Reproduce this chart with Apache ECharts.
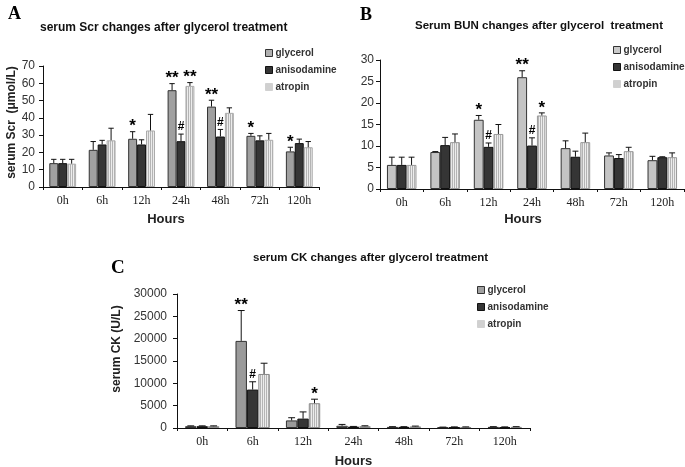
<!DOCTYPE html>
<html>
<head>
<meta charset="utf-8">
<script src="https://cdn.jsdelivr.net/npm/echarts@6/dist/echarts.min.js"></script>
<style>
  html, body { margin: 0; padding: 0; background: #fff; }
  #chart { width: 685px; height: 467px; }
</style>
</head>
<body>
<div id="chart"></div>
<script>
// 数据
var hours = ['0h', '6h', '12h', '24h', '48h', '72h', '120h'];
var groups = ['glycerol', 'anisodamine', 'atropin'];

// A: serum Scr (umol/L)
var scrTicks = [0, 70, 10];
var scrGly = [13.8, 21.5, 27.9, 56.0, 46.5, 29.6, 20.6];
var scrGlySd = [2.2, 4.8, 4.1, 3.8, 3.7, 1.4, 2.4];
var scrAni = [13.8, 24.6, 24.6, 26.5, 29.2, 27.0, 25.4];
var scrAniSd = [2.2, 2.4, 2.7, 4.1, 4.1, 2.6, 2.3];
var scrAtr = [13.5, 27.0, 32.7, 58.5, 42.9, 27.3, 23.0];
var scrAtrSd = [2.5, 7.0, 9.3, 1.9, 2.9, 3.7, 3.3];
var scrGlyMark = ['', '', '*', '**', '**', '*', '*'];
var scrAniMark = ['', '', '', '#', '#', '', ''];
var scrAtrMark = ['', '', '', '**', '', '', ''];

// B: serum BUN
var bunTicks = [0, 30, 5];
var bunGly = [5.6, 8.6, 16.1, 26.0, 9.5, 7.8, 6.7];
var bunGlySd = [1.8, 0.1, 1.0, 1.5, 1.7, 0.6, 0.9];
var bunAni = [5.6, 10.2, 9.8, 10.1, 7.5, 7.2, 7.4];
var bunAniSd = [1.8, 1.8, 0.9, 1.8, 1.3, 0.8, 0.1];
var bunAtr = [5.6, 10.9, 12.8, 17.1, 10.9, 8.8, 7.4];
var bunAtrSd = [1.8, 1.9, 2.2, 0.6, 2.1, 0.9, 1.0];
var bunGlyMark = ['', '', '*', '**', '', '', ''];
var bunAniMark = ['', '', '#', '#', '', '', ''];
var bunAtrMark = ['', '', '', '*', '', '', ''];

// C: serum CK (U/L)
var ckTicks = [0, 30000, 5000];
var ckGly = [400, 19500, 1700, 500, 250, 150, 250];
var ckGlySd = [80, 6800, 600, 300, 50, 50, 50];
var ckAni = [400, 8600, 2100, 300, 250, 200, 200];
var ckAniSd = [80, 1750, 1500, 50, 50, 50, 50];
var ckAtr = [400, 12100, 5550, 400, 350, 200, 250];
var ckAtrSd = [80, 2400, 900, 100, 80, 50, 50];
var ckGlyMark = ['', '**', '', '', '', '', ''];
var ckAniMark = ['', '#', '', '', '', '', ''];
var ckAtrMark = ['', '', '*', '', '', '', ''];

// 竖条纹填充 (atropin)
function stripes() {
    var c = document.createElement('canvas');
    c.width = 2; c.height = 2;
    var ctx = c.getContext('2d');
    ctx.fillStyle = '#ececec';
    ctx.fillRect(0, 0, 2, 2);
    ctx.fillStyle = '#b4b4b4';
    ctx.fillRect(0, 0, 1, 2);
    return { image: c, repeat: 'repeat' };
}
var atrFill = stripes();

var catGap = 0.32;
var sans = 'Liberation Sans, Arial, sans-serif';
var serif = 'Liberation Serif, Times New Roman, serif';

function barSeries(idx, name, data, color, border) {
    return {
        name: name,
        type: 'bar',
        xAxisIndex: idx,
        yAxisIndex: idx,
        data: data,
        barGap: '0%',
        barCategoryGap: (catGap * 100) + '%',
        itemStyle: { color: color, borderColor: border, borderWidth: 1 },
        emphasis: { disabled: true }
    };
}

function errSeries(idx, means, sds, marks, pos) {
    var data = means.map(function (m, i) { return [i, m, sds[i]]; });
    return {
        type: 'custom',
        xAxisIndex: idx,
        yAxisIndex: idx,
        z: 5,
        silent: true,
        data: data,
        renderItem: function (params, api) {
            var i = api.value(0), m = api.value(1), s = api.value(2);
            var band = api.size([1, 0])[0];
            var w = band * (1 - catGap) / 3;
            var p0 = api.coord([i, m]);
            var p1 = api.coord([i, m + s]);
            var x = p0[0] + (pos - 1) * w;
            var cap = w * 0.3;
            var children = [
                { type: 'line', shape: { x1: x, y1: p0[1], x2: x, y2: p1[1] }, style: { stroke: '#111', lineWidth: 1 } },
                { type: 'line', shape: { x1: x - cap, y1: p1[1], x2: x + cap, y2: p1[1] }, style: { stroke: '#111', lineWidth: 1 } }
            ];
            var mk = marks[params.dataIndex];
            if (mk) {
                var star = mk.indexOf('*') >= 0;
                children.push({
                    type: 'text',
                    style: {
                        text: mk,
                        x: x,
                        y: star ? p1[1] - 5 : p1[1] - 1,
                        align: 'center',
                        verticalAlign: star ? 'middle' : 'bottom',
                        font: 'bold ' + (star ? 17 : 12) + 'px ' + sans,
                        fill: '#000'
                    }
                });
            }
            return { type: 'group', children: children };
        }
    };
}

function xAxisFor(idx, gap, pad) {
    return {
        type: 'category',
        gridIndex: idx,
        data: hours,
        name: 'Hours',
        nameLocation: 'middle',
        nameGap: gap,
        nameTextStyle: { fontFamily: sans, fontWeight: 'bold', fontSize: 13, color: '#222', padding: pad },
        axisLine: { lineStyle: { color: '#111', width: 1 } },
        axisTick: { show: true, length: 3, lineStyle: { color: '#111' } },
        axisLabel: { fontFamily: serif, fontSize: 12, color: '#222', margin: 8 },
        splitLine: { show: false }
    };
}

function yAxisFor(idx, ticks, name, gap, pad, margin) {
    return {
        type: 'value',
        gridIndex: idx,
        min: ticks[0],
        max: ticks[1],
        interval: ticks[2],
        name: name,
        nameLocation: 'middle',
        nameGap: gap,
        nameTextStyle: { fontFamily: sans, fontWeight: 'bold', fontSize: 12, color: '#222', padding: pad },
        axisLine: { show: true, lineStyle: { color: '#111', width: 1 } },
        axisTick: { show: true, length: 4, lineStyle: { color: '#111' } },
        axisLabel: {
            fontFamily: sans, fontSize: 12, color: '#333', margin: margin,
            formatter: function (v) { return String(v); }
        },
        splitLine: { show: false }
    };
}

function legendFor(left, top, glyColor) {
    return {
        orient: 'vertical',
        left: left,
        top: top,
        itemWidth: 7,
        itemHeight: 7,
        itemGap: 7,
        icon: 'rect',
        selectedMode: false,
        textStyle: { fontFamily: sans, fontWeight: 'bold', fontSize: 10, color: '#333', padding: [0, 0, 0, -2] },
        data: [
            { name: 'glycerol', itemStyle: { color: glyColor, borderColor: '#333', borderWidth: 1 } },
            { name: 'anisodamine', itemStyle: { color: '#353535', borderColor: '#111', borderWidth: 1 } },
            { name: 'atropin', itemStyle: { color: atrFill, borderColor: '#bbb', borderWidth: 0.5 } }
        ]
    };
}

var myChart = echarts.init(document.getElementById('chart'), null, { renderer: 'canvas' });

var option = {
    backgroundColor: '#fff',
    animation: false,
    title: [
        { text: 'A', left: 3, top: 0, textStyle: { fontFamily: serif, fontWeight: 'bold', fontSize: 18, color: '#000' } },
        { text: 'B', left: 355, top: 1, textStyle: { fontFamily: serif, fontWeight: 'bold', fontSize: 18, color: '#000' } },
        { text: 'C', left: 106, top: 254, textStyle: { fontFamily: serif, fontWeight: 'bold', fontSize: 19, color: '#000' } },
        { text: 'serum Scr changes after glycerol treatment', left: 35, top: 17, textStyle: { fontFamily: sans, fontWeight: 'bold', fontSize: 12, color: '#111' } },
        { text: 'Serum BUN changes after glycerol  treatment', left: 410, top: 15, textStyle: { fontFamily: sans, fontWeight: 'bold', fontSize: 11.5, color: '#111' } },
        { text: 'serum CK changes after glycerol treatment', left: 248, top: 247, textStyle: { fontFamily: sans, fontWeight: 'bold', fontSize: 11.5, color: '#111' } }
    ],
    legend: [
        legendFor(260, 43, '#b0b0b0'),
        legendFor(608, 40, '#cacaca'),
        legendFor(472, 280, '#a0a0a0')
    ],
    grid: [
        { left: 43, top: 66, width: 276, height: 121, outerBoundsMode: 'none' },
        { left: 380, top: 60, width: 304, height: 129, outerBoundsMode: 'none' },
        { left: 177, top: 294, width: 353, height: 134, outerBoundsMode: 'none' }
    ],
    xAxis: [
        xAxisFor(0, 26, [0, 30, 0, 0]),
        xAxisFor(1, 24, [0, 18, 0, 0]),
        xAxisFor(2, 27, [0, 0, 0, 0])
    ],
    yAxis: [
        yAxisFor(0, scrTicks, 'serum Scr  (\u03bcmol/L)', 25, [0, 0, 0, 8], 8),
        yAxisFor(1, bunTicks, '', 20, [0, 0, 0, 0], 6),
        yAxisFor(2, ckTicks, 'serum CK (U/L)', 53, [0, 0, 0, 24], 10)
    ],
    series: [
        barSeries(0, 'glycerol', scrGly, '#a0a0a0', '#333'),
        barSeries(0, 'anisodamine', scrAni, '#353535', '#111'),
        barSeries(0, 'atropin', scrAtr, atrFill, '#aaa'),
        errSeries(0, scrGly, scrGlySd, scrGlyMark, 0),
        errSeries(0, scrAni, scrAniSd, scrAniMark, 1),
        errSeries(0, scrAtr, scrAtrSd, scrAtrMark, 2),

        barSeries(1, 'glycerol', bunGly, '#c4c4c4', '#333'),
        barSeries(1, 'anisodamine', bunAni, '#353535', '#111'),
        barSeries(1, 'atropin', bunAtr, atrFill, '#999'),
        errSeries(1, bunGly, bunGlySd, bunGlyMark, 0),
        errSeries(1, bunAni, bunAniSd, bunAniMark, 1),
        errSeries(1, bunAtr, bunAtrSd, bunAtrMark, 2),

        barSeries(2, 'glycerol', ckGly, '#9a9a9a', '#333'),
        barSeries(2, 'anisodamine', ckAni, '#353535', '#111'),
        barSeries(2, 'atropin', ckAtr, atrFill, '#888'),
        errSeries(2, ckGly, ckGlySd, ckGlyMark, 0),
        errSeries(2, ckAni, ckAniSd, ckAniMark, 1),
        errSeries(2, ckAtr, ckAtrSd, ckAtrMark, 2)
    ]
};
myChart.setOption(option);
</script>
</body>
</html>
